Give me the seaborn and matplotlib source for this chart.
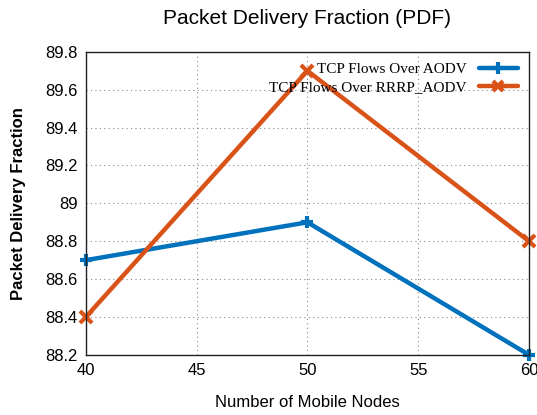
import matplotlib
matplotlib.use("Agg")
import matplotlib.pyplot as plt
import seaborn as sns
import pandas as pd

nodes = [40, 50, 60]
aodv = [88.7, 88.9, 88.2]
rrrp_aodv = [88.4, 89.7, 88.8]
series_names = ["TCP Flows Over AODV", "TCP Flows Over RRRP_AODV"]
xticks = [40, 45, 50, 55, 60]
yticks = [88.2, 88.4, 88.6, 88.8, 89.0, 89.2, 89.4, 89.6, 89.8]
ytick_labels = ["88.2", "88.4", "88.6", "88.8", "89", "89.2", "89.4", "89.6", "89.8"]

df = pd.DataFrame({
    "nodes": nodes * 2,
    "pdf": aodv + rrrp_aodv,
    "series": [series_names[0]] * 3 + [series_names[1]] * 3,
})

sns.set_style("white")
plt.rcParams["font.family"] = ["Liberation Sans", "DejaVu Sans"]
plt.rcParams["text.color"] = "black"
plt.rcParams["axes.labelcolor"] = "black"
plt.rcParams["xtick.color"] = "black"
plt.rcParams["ytick.color"] = "black"

fig = plt.figure(figsize=(5.37, 4.15), dpi=100)
ax = fig.add_axes([0.160, 0.145, 0.825, 0.730])

palette = {series_names[0]: "#0072BD", series_names[1]: "#D95319"}
sns.lineplot(data=df, x="nodes", y="pdf", hue="series", palette=palette,
             linewidth=3.2, ax=ax, legend=False)
for name, mk in [(series_names[0], "+"), (series_names[1], "x")]:
    sub = df[df["series"] == name]
    ax.plot(sub["nodes"], sub["pdf"], linestyle="none", marker=mk,
            markersize=9, markeredgewidth=3, color=palette[name], clip_on=False)

ax.set_xlim(40, 60)
ax.set_ylim(88.2, 89.8)
ax.set_xticks(xticks)
ax.set_xticklabels([str(t) for t in xticks], fontsize=12)
ax.set_yticks(yticks)
ax.set_yticklabels(ytick_labels, fontsize=12)
ax.grid(True, linestyle=(0, (1, 3)), color="#888888", linewidth=0.8)
for s in ax.spines.values():
    s.set_color("#222222")
    s.set_linewidth(1.0)
ax.tick_params(axis="both", length=0, pad=6)

ax.set_xlabel("Number of Mobile Nodes", fontsize=12, labelpad=12)
ax.set_ylabel("Packet Delivery Fraction", fontsize=12, fontweight="bold", labelpad=14)
ax.set_title("Packet Delivery Fraction (PDF)", fontsize=15, pad=20)

handles = [
    plt.Line2D([], [], color=palette[series_names[0]], lw=3.2, marker="+", markersize=9, markeredgewidth=3),
    plt.Line2D([], [], color=palette[series_names[1]], lw=3.2, marker="x", markersize=7, markeredgewidth=3),
]
leg = ax.legend(handles, series_names, loc="upper right", frameon=False,
                markerfirst=False, handlelength=2.6, borderaxespad=0.3,
                labelspacing=0.3, prop={"family": "Liberation Serif", "size": 11})

fig.savefig("out.png", dpi=100)
